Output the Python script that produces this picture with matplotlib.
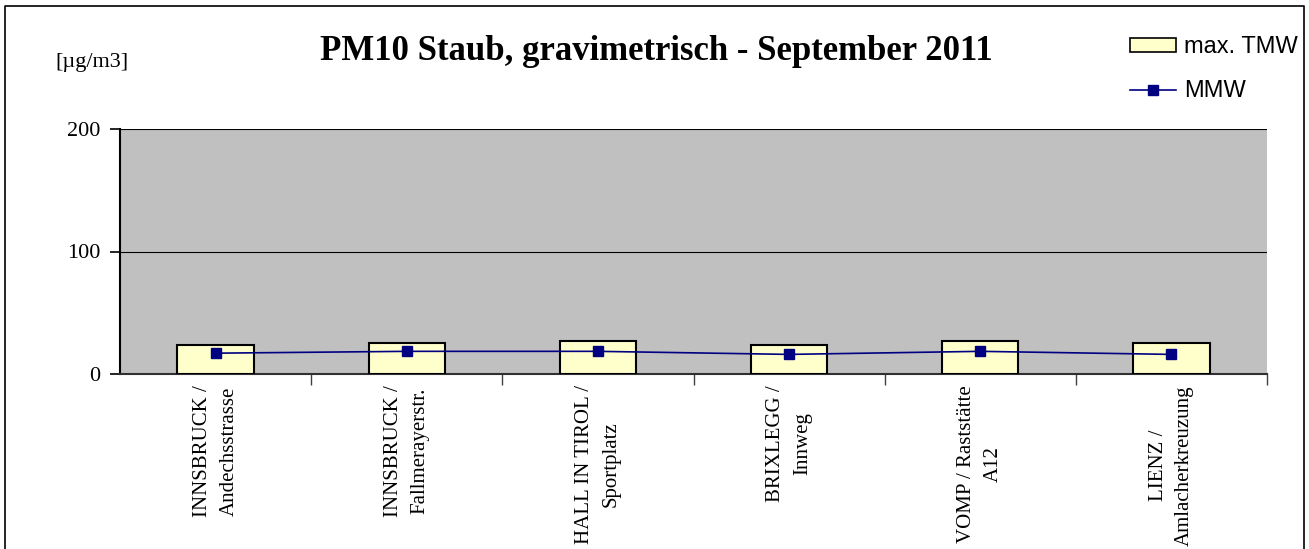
import matplotlib.pyplot as plt
from matplotlib.lines import Line2D
from matplotlib.patches import Patch

stations = ['INNSBRUCK /\nAndechsstrasse', 'INNSBRUCK /\nFallmerayerstr.',
            'HALL IN TIROL /\nSportplatz', 'BRIXLEGG /\nInnweg',
            'VOMP / Raststätte\nA12', 'LIENZ /\nAmlacherkreuzung']
max_tmw = [24, 25.5, 27, 24, 27, 25.5]
mmw = [17, 18.5, 18.5, 16, 18.5, 16]
y_ticks = [0, 100, 200]

serif = 'Liberation Serif'
sans = 'Liberation Sans'

fig = plt.figure(figsize=(13.09, 5.49), dpi=100)
W, H = 1309, 549
ax = fig.add_axes([120 / W, 1 - 374 / H, (1267 - 120) / W, (374 - 129) / H])
ax.set_facecolor('#c0c0c0')

x = list(range(len(stations)))
ax.bar(x, max_tmw, width=0.4, color='#ffffcc', edgecolor='black', linewidth=1.5, zorder=3)
ax.plot(x, mmw, color='#000080', linewidth=1.2, marker='s', markersize=7, zorder=4)

ax.set_xlim(-0.5, len(stations) - 0.5)
ax.set_ylim(0, 200)
ax.set_yticks(y_ticks)
ax.set_yticklabels([str(v) for v in y_ticks], fontfamily=serif, fontsize=16)
ax.yaxis.grid(True, color='black', linewidth=0.8, zorder=1)
ax.set_axisbelow(True)

# category boundary ticks on the x axis
ax.set_xticks([i + 0.5 for i in x])
ax.set_xticklabels([])
ax.tick_params(axis='x', direction='out', length=8, width=1, color='#404040')
ax.tick_params(axis='y', direction='out', length=7, width=1.2, pad=7)
for i, name in enumerate(stations):
    ax.text(i, -0.045, name, transform=ax.get_xaxis_transform(), rotation=90,
            ha='center', va='top', multialignment='center', fontfamily=serif,
            fontsize=15, linespacing=1.55)

for side in ['top', 'right']:
    ax.spines[side].set_visible(False)
ax.spines['left'].set_linewidth(1.5)
ax.spines['bottom'].set_linewidth(1.5)
ax.spines['bottom'].set_color('#303030')

fig.text(656 / W, 1 - 52 / H, 'PM10 Staub, gravimetrisch - September 2011', ha='center',
         va='center', fontfamily=serif, fontweight='bold', fontsize=25)
fig.text(55 / W, 1 - 63 / H, '[µg/m3]', ha='left', va='center', fontfamily=serif, fontsize=16)

handles = [Patch(facecolor='#ffffcc', edgecolor='black', linewidth=1.2),
           Line2D([0], [0], color='#000080', linewidth=1.2, marker='s', markersize=7)]
fig.legend(handles, ['max. TMW', 'MMW'], loc='upper right',
           bbox_to_anchor=(1298 / W, 1 - 36 / H), frameon=False, borderpad=0,
           borderaxespad=0, handlelength=1.95, handleheight=0.55, handletextpad=0.35,
           labelspacing=0.95, prop={'family': sans, 'size': 17})

# frame around the whole chart
fig.add_artist(Line2D([5 / W, 5 / W, 1304 / W, 1304 / W], [0, 1 - 6 / H, 1 - 6 / H, 0],
                      transform=fig.transFigure, color='black', linewidth=1.2))

fig.savefig('out.png', dpi=100, facecolor='white')
